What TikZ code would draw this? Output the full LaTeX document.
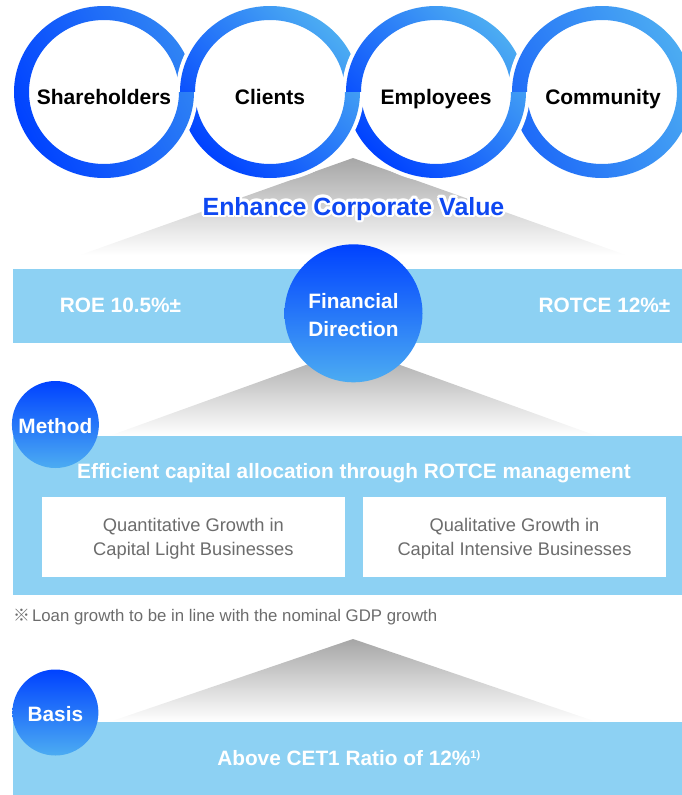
\documentclass[tikz,border=0pt]{standalone}
\usepackage{fontspec}
\setmainfont{Liberation Sans}
\newfontfamily\cjk{Noto Sans CJK JP}
\usepackage{contour}
\contourlength{2.6pt}
\contournumber{12}
\usetikzlibrary{calc}

\definecolor{deepblue}{RGB}{0,66,255}
\definecolor{skyblue}{RGB}{76,172,242}
\definecolor{ringmidA}{RGB}{48,132,244}
\definecolor{ringmidB}{RGB}{30,106,248}
\definecolor{bandblue}{RGB}{141,209,243}
\definecolor{titleblue}{RGB}{14,72,242}
\definecolor{softgray}{RGB}{108,108,108}
\definecolor{fangray}{RGB}{166,166,166}

% one link of the chain: white halo, then the shaded annulus
% #1 centre x, #2 dark colour, #3 light colour, #4 shading angle
\newcommand\linkring[4]{%
  \fill[white,even odd rule]
    (#1,92) ellipse[x radius=94pt,y radius=90pt]
    (#1,92) ellipse[x radius=71pt,y radius=68pt];
  \shade[even odd rule,top color=#2,bottom color=#3,shading angle=#4]
    (#1,92) ellipse[x radius=90pt,y radius=86pt]
    (#1,92) ellipse[x radius=75pt,y radius=72pt];}

\tikzset{
  ringlabel/.style={text=black,font=\bfseries\fontsize{21}{24}\selectfont,inner sep=0pt,anchor=base},
  whitelabel/.style={text=white,font=\bfseries\fontsize{20.8}{24}\selectfont,inner sep=0pt,anchor=base},
  boxlabel/.style={text=softgray,font=\fontsize{18.3}{22}\selectfont,inner sep=0pt,anchor=base},
  badge/.style={circle,inner sep=0pt,top color=deepblue,bottom color=skyblue},
  whitebox/.style={fill=white,inner sep=0pt,minimum height=80pt},
  band/.style={fill=bandblue},
  fan/.style={top color=fangray,bottom color=white},
}

\begin{document}
\begin{tikzpicture}[x=1pt,y=-1pt]
\useasboundingbox (0,0) rectangle (682,795);
\clip (0,0) rectangle (682,795);

% fan under the stakeholder chain
\shade[fan] (353,158) -- (80,255) -- (626,255) -- cycle;

% stakeholder chain (dark towards lower left, light towards upper right)
\linkring{104}{deepblue}{ringmidA}{115}
\linkring{270}{deepblue}{skyblue}{135}
\linkring{436}{deepblue}{skyblue}{135}
\linkring{602}{ringmidB}{skyblue}{115}
% lower crossings: left link passes over the right one
\foreach \cx/\cd/\cl/\ang in {104/deepblue/ringmidA/115,270/deepblue/skyblue/135,436/deepblue/skyblue/135}{
  \begin{scope}
    \clip (\cx+40,92) rectangle (\cx+126,200);
    \linkring{\cx}{\cd}{\cl}{\ang}
  \end{scope}
}

\node[ringlabel] (share) at (104,104) {Shareholders};
\node[ringlabel] (client) at (270,104) {Clients};
\node[ringlabel] (employ) at (436,104) {Employees};
\node[ringlabel] (commun) at (603,104) {Community};

\node[text=titleblue,font=\bfseries\fontsize{24.9}{28}\selectfont,inner sep=0pt,anchor=base]
  (enhance) at (353.5,215) {\contour{white}{Enhance Corporate Value}};

% financial direction
\fill[band] (13,269) rectangle (682,343);
\shade[fan] (353,348) -- (109,436) -- (597,436) -- cycle;
\node[badge,minimum size=138pt] (fin) at (353.5,313.3) {};
\node[whitelabel] (finA) at (353.5,308.3) {Financial};
\node[whitelabel] (finB) at (353.5,336.7) {Direction};
\node[whitelabel] (roe) at (120.5,312.7) {ROE 10.5\%±};
\node[whitelabel] (rotce) at (604.5,312.7) {ROTCE 12\%±};

% method
\fill[band] (13,436) rectangle (682,595);
\node[badge,minimum size=87pt] (method) at (55.4,424.5) {};
\node[whitelabel] (methodt) at (55.4,433.3) {Method};
\node[whitelabel] (alloc) at (354,478) {Efficient capital allocation through ROTCE management};

\node[whitebox,minimum width=303.5pt] (boxA) at (193.4,537) {};
\node[whitebox,minimum width=303pt] (boxB) at (514.5,537) {};
\node[boxlabel] (boxAa) at (boxA.center |- 0,531.7) {Quantitative Growth in};
\node[boxlabel] (boxAb) at (boxA.center |- 0,555) {Capital Light Businesses};
\node[boxlabel] (boxBa) at (boxB.center |- 0,531.7) {Qualitative Growth in};
\node[boxlabel] (boxBb) at (boxB.center |- 0,555) {Capital Intensive Businesses};

\node[text=softgray,font=\fontsize{16.8}{20}\selectfont,inner sep=0pt,anchor=base west]
  (note) at (13,621) {{\cjk ※}\hspace{2pt}Loan growth to be in line with the nominal GDP growth};

% basis
\shade[fan] (353,639) -- (109,722) -- (597,722) -- cycle;
\fill[band] (13,722) rectangle (682,795);
\node[badge,minimum size=86pt] (basis) at (55.4,712.5) {};
\node[whitelabel] (basist) at (55.4,721.7) {Basis};
\node[whitelabel] (cet) at (349,765.7) {Above CET1 Ratio of 12\%\textsuperscript{\fontsize{11}{12}\selectfont 1)}};
\end{tikzpicture}
\end{document}
